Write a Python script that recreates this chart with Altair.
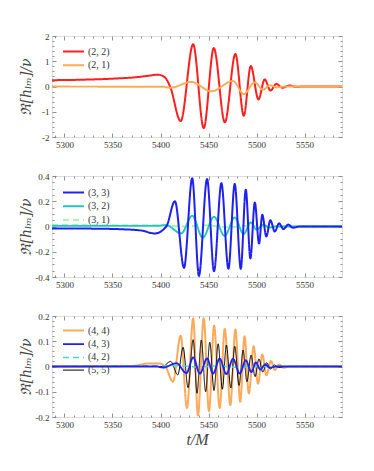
import altair as alt
import pandas as pd

# ---------------- data ----------------
# panel 1
t22 = [5287, 5320, 5350, 5375, 5390, 5397, 5404, 5410, 5421, 5434, 5445, 5455.5, 5467, 5478, 5486.7,
       5494, 5502, 5508.5, 5514.5, 5520.5, 5527, 5534, 5541, 5550, 5589]
h22 = [0.25, 0.27, 0.31, 0.37, 0.44, 0.47, 0.38, 0.0, -1.37, 1.67, -1.65, 1.52, -1.42, 1.29, -1.16,
       0.81, -0.51, 0.28, -0.16, 0.1, -0.05, 0.04, -0.01, 0.0, 0.0]
t21 = [5287, 5380, 5403, 5410, 5432, 5453, 5475.5, 5486.7, 5498, 5507, 5514, 5521, 5530, 5589]
h21 = [0.0, -0.01, -0.01, -0.05, 0.18, -0.19, 0.22, -0.3, 0.16, -0.12, 0.05, -0.03, 0.0, 0.0]

# panel 2
t33 = [5287, 5330, 5360, 5380, 5394, 5406, 5415, 5424.5, 5433, 5440, 5448.5, 5455.7, 5463.4, 5470.7,
       5477.3, 5483.6, 5488.8, 5493.6, 5498.2, 5502.6, 5506, 5510.2, 5514.4, 5519, 5523.5, 5528, 5533,
       5538, 5545, 5589]
h33 = [-0.015, -0.017, -0.022, -0.032, -0.055, 0.0, 0.2, -0.327, 0.382, -0.39, 0.377, -0.354, 0.343,
       -0.335, 0.337, -0.335, 0.292, -0.253, 0.191, -0.135, 0.093, -0.08, 0.05, -0.04, 0.025, -0.02,
       0.015, -0.01, 0.0, 0.0]
t32 = [5287, 5395, 5406, 5421.5, 5433, 5444, 5455.7, 5466.8, 5477.3, 5486.5, 5494, 5500, 5507, 5513,
       5520, 5589]
h32 = [0.005, 0.005, 0.01, -0.055, 0.085, -0.088, 0.077, -0.075, 0.072, -0.06, 0.032, -0.025, 0.015,
       -0.008, 0.0, 0.0]
t31 = [5287, 5400, 5425, 5447, 5470, 5490, 5510, 5589]
h31 = [0.012, 0.01, 0.0, 0.01, -0.006, 0.005, 0.0, 0.0]

# panel 3
t44 = [5287, 5370, 5388, 5398, 5405, 5413, 5421, 5427.6, 5434, 5439, 5445, 5450.5, 5455.8, 5461.6,
       5466.9, 5472.7, 5478, 5483, 5487.5, 5492, 5497, 5501.5, 5506, 5510.3, 5515, 5519, 5523.5, 5528,
       5535, 5589]
h44 = [0.0, 0.002, 0.012, 0.012, 0.0, -0.06, 0.122, -0.164, 0.191, -0.194, 0.191, -0.177, 0.162,
       -0.164, 0.149, -0.153, 0.147, -0.14, 0.12, -0.107, 0.08, -0.068, 0.047, -0.035, 0.022, -0.014,
       0.008, -0.005, 0.0, 0.0]
t43 = [5287, 5395, 5403, 5416.5, 5427, 5434, 5441, 5448.5, 5454.7, 5461.6, 5468.6, 5475.5, 5482.5,
       5488.8, 5494.6, 5499.3, 5504, 5509, 5514, 5520, 5589]
h43 = [0.0, 0.0, -0.004, 0.013, -0.026, 0.036, -0.028, 0.032, -0.028, 0.031, -0.03, 0.03, -0.028,
       0.025, -0.022, 0.016, -0.012, 0.008, -0.005, 0.0, 0.0]
t42 = [5287, 5420, 5440, 5460, 5480, 5500, 5589]
h42 = [0.0, 0.003, -0.003, 0.003, -0.003, 0.0, 0.0]
t55 = [5287, 5402, 5410.6, 5418, 5423.5, 5428.7, 5434, 5438, 5442.5, 5447, 5451.3, 5455.7, 5460,
       5464.4, 5468.6, 5473.2, 5477.3, 5481.8, 5486, 5490, 5494.3, 5498.5, 5502.5, 5506.5, 5510.5,
       5514.5, 5518.5, 5523, 5530, 5589]
h55 = [0.0, 0.0, 0.02, -0.033, 0.076, -0.084, 0.106, -0.106, 0.105, -0.1, 0.096, -0.095, 0.09, -0.09,
       0.085, -0.085, 0.08, -0.075, 0.065, -0.06, 0.045, -0.04, 0.03, -0.022, 0.015, -0.01, 0.006,
       -0.004, 0.0, 0.0]

x_domain = [5287, 5589]
x_ticks = [5300, 5350, 5400, 5450, 5500, 5550]
x_minor = [5290, 5310, 5320, 5330, 5340, 5360, 5370, 5380, 5390, 5410, 5420, 5430, 5440, 5460, 5470,
           5480, 5490, 5510, 5520, 5530, 5540, 5560, 5570, 5580]

SERIF = "Liberation Serif"
TICK = "#777777"
W, H = 290, 101


def make_df(series):
    rows = []
    for name, ts, hs in series:
        for t, h in zip(ts, hs):
            rows.append({"series": name, "t": t, "h": h})
    return pd.DataFrame(rows)


def panel(series_draw_order, legend_names, colors, widths, dashes, ydom, yticks, yminor, xtitle,
          legend_y):
    df = make_df(series_draw_order)
    xs = alt.Scale(domain=x_domain, nice=False, zero=False)
    ys = alt.Scale(domain=ydom, nice=False, zero=False)
    leg = alt.Legend(title=None, orient="none", legendX=15, legendY=legend_y,
                     symbolType="M-2,0H2", symbolSize=110, labelFont=SERIF, labelFontSize=10,
                     labelColor="#333333", rowPadding=1.7, labelOffset=8)
    color = alt.Color("series:N", scale=alt.Scale(domain=legend_names, range=colors), legend=leg)
    dash = alt.StrokeDash("series:N", scale=alt.Scale(domain=legend_names, range=dashes), legend=leg)
    sw = alt.StrokeWidth("series:N", scale=alt.Scale(type="ordinal", domain=legend_names, range=widths),
                         legend=leg)

    common_axis = dict(grid=False, domain=False, tickColor=TICK, tickWidth=0.8)
    xaxis = alt.Axis(orient="bottom", values=x_ticks, format="d", tickSize=4, offset=-4,
                     labelPadding=3, labelFont=SERIF, labelFontSize=9, labelColor="#333333",
                     title=xtitle if xtitle else None, titleFont=SERIF, titleFontSize=16,
                     titleFontStyle="italic", titleFontWeight="normal", titleColor="#444444",
                     titlePadding=2, **common_axis)
    yaxis = alt.Axis(orient="left", values=yticks, tickSize=4, offset=-4, labelPadding=3,
                     labelExpr="datum.value + ''", labelFont=SERIF, labelFontSize=9,
                     labelColor="#333333", title="ℜ[hₗₘ]/ν", titleFont="DejaVu Serif",
                     titleFontSize=14, titleFontStyle="italic", titleFontWeight="normal",
                     titleColor="#444444", titleX=-30, titleY=H / 2, titleAngle=270,
                     titleAlign="center", titleBaseline="middle", **common_axis)
    base = alt.Chart(df).mark_line(interpolate="monotone", clip=True)
    main = base.encode(
        x=alt.X("t:Q", scale=xs, axis=xaxis),
        y=alt.Y("h:Q", scale=ys, axis=yaxis),
        color=color, strokeDash=dash, strokeWidth=sw,
    )

    def ghost(xorient, yorient, xv, yv, size):
        return alt.Chart(df).mark_line(opacity=0).encode(
            x=alt.X("t:Q", scale=xs, axis=alt.Axis(orient=xorient, values=xv, tickSize=size,
                                                  offset=-size, labels=False, title=None,
                                                  **common_axis)),
            y=alt.Y("h:Q", scale=ys, axis=alt.Axis(orient=yorient, values=yv, tickSize=size,
                                                  offset=-size, labels=False, title=None,
                                                  **common_axis)),
            detail="series:N",
        )

    return alt.layer(
        main,
        ghost("top", "right", x_ticks, yticks, 4),
        ghost("bottom", "left", x_minor, yminor, 2),
        ghost("top", "right", x_minor, yminor, 2),
    ).resolve_axis(x="independent", y="independent").properties(width=W, height=H)


p1 = panel(
    [("(2, 2)", t22, h22), ("(2, 1)", t21, h21)],
    ["(2, 2)", "(2, 1)"], ["#FF1F1F", "#FFAA55"], [2.0, 1.9], [[1, 0], [1, 0]],
    [-2, 2], [-2, -1, 0, 1, 2],
    [-1.8, -1.6, -1.4, -1.2, -0.8, -0.6, -0.4, -0.2, 0.2, 0.4, 0.6, 0.8, 1.2, 1.4, 1.6, 1.8], None,
    9)
p2 = panel(
    [("(3, 1)", t31, h31), ("(3, 2)", t32, h32), ("(3, 3)", t33, h33)],
    ["(3, 3)", "(3, 2)", "(3, 1)"], ["#2020F0", "#1FC4C4", "#99FF99"], [2.0, 1.9, 1.8],
    [[1, 0], [1, 0], [6, 4]],
    [-0.4, 0.4], [-0.4, -0.2, 0, 0.2, 0.4],
    [-0.35, -0.3, -0.25, -0.15, -0.1, -0.05, 0.05, 0.1, 0.15, 0.25, 0.3, 0.35], None, 10)
p3 = panel(
    [("(4, 4)", t44, h44), ("(5, 5)", t55, h55), ("(4, 2)", t42, h42), ("(4, 3)", t43, h43)],
    ["(4, 4)", "(4, 3)", "(4, 2)", "(5, 5)"], ["#FFAA5A", "#2020F0", "#44DDCC", "#000000"],
    [2.0, 1.8, 1.5, 1.0], [[1, 0], [1, 0], [6, 4], [1, 0]],
    [-0.2, 0.2], [-0.2, -0.1, 0, 0.1, 0.2],
    [-0.18, -0.16, -0.14, -0.12, -0.08, -0.06, -0.04, -0.02, 0.02, 0.04, 0.06, 0.08, 0.12, 0.14,
     0.16, 0.18], "t/M", 8)

chart = alt.vconcat(p1, p2, p3, spacing=21).resolve_scale(
    color="independent", strokeDash="independent", strokeWidth="independent"
).properties(padding={"left": 10, "top": 23, "right": 5, "bottom": 5}).configure_view(
    stroke="#888888", strokeWidth=1
).configure(background="white")

chart.save("out.html", embed_options={"renderer": "svg", "actions": False})
